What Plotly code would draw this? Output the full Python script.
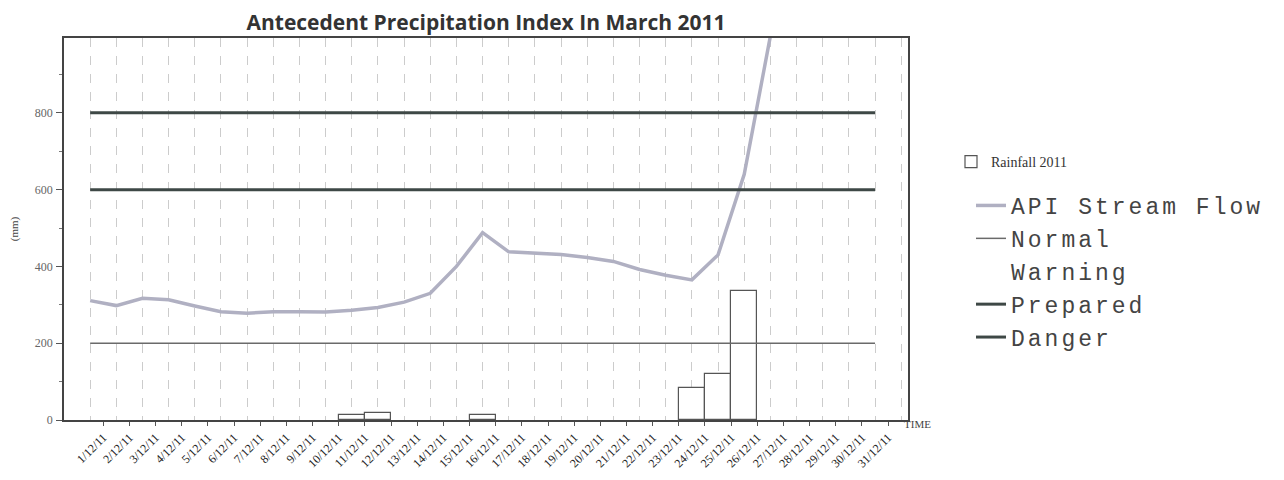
import plotly.graph_objects as go

# ---------------- data ----------------
days = list(range(1, 32))
date_labels = [f"{d}/12/11" for d in days]

api_days = list(range(1, 28))
api_values = [311, 298, 317, 313, 297, 282, 278, 282, 282, 281, 286, 293, 307, 330,
              400, 488, 438, 435, 431, 423, 413, 392, 377, 365, 430, 640, 1000]

rain_days = [11, 12, 16, 24, 25, 26]
rain_values = [13, 17, 13, 83, 121, 335]

normal_level = 200
warning_level = 400
prepared_level = 600
danger_level = 800

# ---------------- figure ----------------
# The page body has an 8px default margin, so the figure is laid out
# 8px smaller and all offsets are measured from that origin.
W, H = 1276, 472

fig = go.Figure()

serif = "Liberation Serif"
mono = "Liberation Mono"


def wide(label):
    return f'<span style="letter-spacing:3px">{label}</span>'


fig.add_trace(go.Scatter(
    x=days, y=[warning_level] * len(days), mode="lines", name=wide("Warning"),
    line=dict(color="white", width=2), legend="legend2", legendrank=3,
    hoverinfo="skip"))

fig.add_trace(go.Bar(
    x=rain_days, y=rain_values, name="Rainfall 2011", width=1,
    marker=dict(color="white", line=dict(color="#555555", width=1.2)),
    legend="legend"))

fig.add_trace(go.Scatter(
    x=api_days, y=api_values, mode="lines", name=wide("API Stream Flow"),
    line=dict(color="#b0b0c2", width=3.5), legend="legend2", legendrank=1))

fig.add_trace(go.Scatter(
    x=days, y=[normal_level] * len(days), mode="lines", name=wide("Normal"),
    line=dict(color="#6a6a6a", width=1.5), legend="legend2", legendrank=2))

fig.add_trace(go.Scatter(
    x=days, y=[prepared_level] * len(days), mode="lines", name=wide("Prepared"),
    line=dict(color="#3e4846", width=3), legend="legend2", legendrank=4))

fig.add_trace(go.Scatter(
    x=days, y=[danger_level] * len(days), mode="lines", name=wide("Danger"),
    line=dict(color="#3e4846", width=3), legend="legend2", legendrank=5))

fig.update_layout(
    width=W, height=H,
    margin=dict(l=56, r=376, t=30, b=60, autoexpand=False),
    paper_bgcolor="white", plot_bgcolor="white",
    showlegend=True,
    title=dict(text="<b>Antecedent Precipitation Index In March 2011</b>",
               x=0.5 * (56 + 900) / W, xanchor="center",
               y=1 - 15 / H, yanchor="middle",
               font=dict(family="Open Sans", size=21, color="#333333")),
    xaxis=dict(
        automargin=False,
        range=[0, 32.26],
        tickmode="array",
        tickvals=[d + 0.5 for d in days],
        ticktext=date_labels,
        tickangle=-45,
        tickfont=dict(family=serif, size=12, color="#222222"),
        ticks="outside", ticklen=4, tickcolor="#555555",
        showgrid=False, zeroline=False,
        showline=True, linecolor="#444444", linewidth=1.5, mirror=True,
        minor=dict(tick0=0, dtick=1, showgrid=True, griddash="dash",
                   gridcolor="#cccccc", gridwidth=1, ticks=""),
    ),
    yaxis=dict(
        automargin=False,
        range=[0, 995],
        tickmode="array",
        tickvals=[0, 200, 400, 600, 800],
        tickfont=dict(family=serif, size=12, color="#666666"),
        ticks="outside", ticklen=6, tickcolor="#555555",
        ticklabelstandoff=1,
        minor=dict(dtick=100, ticks="outside", ticklen=3, tickcolor="#777777"),
        showgrid=False, zeroline=False,
        showline=True, linecolor="#444444", linewidth=1.5, mirror=True,
        title=dict(text="(mm)", standoff=19,
                   font=dict(family=serif, size=11, color="#444444")),
    ),
    legend=dict(
        xref="container", yref="container",
        x=943 / W, y=1 - 138 / H, xanchor="left", yanchor="top",
        font=dict(family=serif, size=14, color="#333333"),
        bgcolor="rgba(0,0,0,0)",
    ),
    legend2=dict(
        xref="container", yref="container",
        x=963 / W, y=1 - 176 / H, xanchor="left", yanchor="top",
        font=dict(family=mono, size=23, color="#444444"),
        bgcolor="rgba(0,0,0,0)",
        traceorder="normal",
    ),
    annotations=[
        dict(text="TIME", xref="paper", yref="paper", x=1.0, y=0,
             xanchor="left", yanchor="middle", xshift=-6, yshift=-4,
             showarrow=False,
             font=dict(family=serif, size=11, color="#444444")),
    ],
    bargap=0,
)

fig.write_html("out.html")
